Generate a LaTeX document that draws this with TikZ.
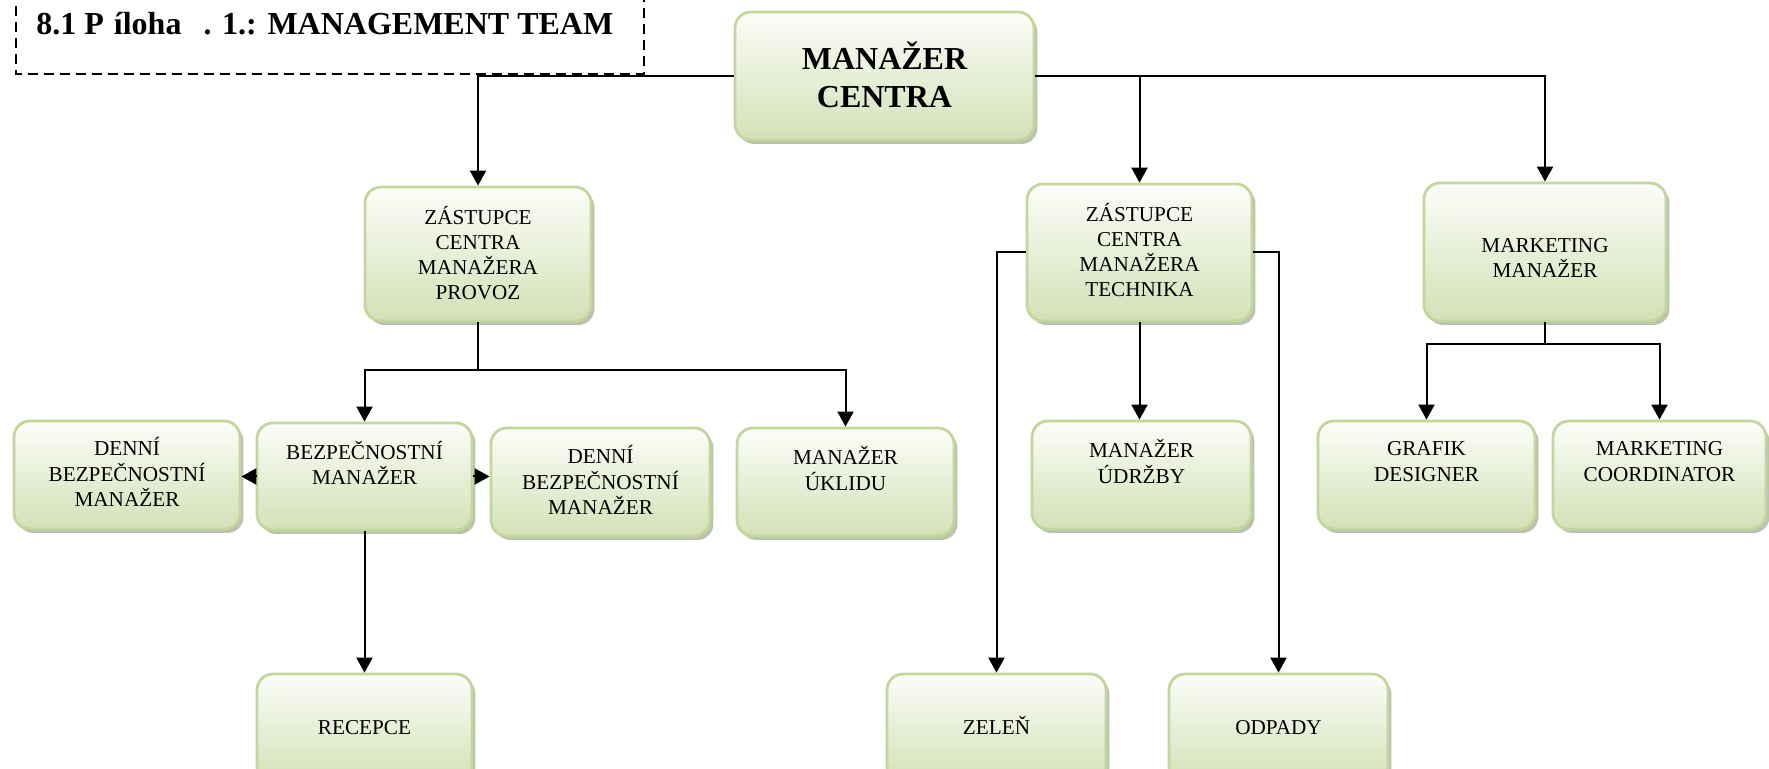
\documentclass[tikz,border=0pt]{standalone}
\usepackage{fontspec}
\setmainfont{Liberation Serif}
\usetikzlibrary{arrows.meta,shadows}
\definecolor{boxedge}{HTML}{C3D69B}
\definecolor{boxtop}{HTML}{FCFDF9}
\definecolor{boxbot}{HTML}{D3E1B6}
\definecolor{boxshade}{HTML}{8E9A78}

% box from corner (x1,y1) to (x2,y2), text centred at height ty
\newcommand\orgnode[8][]{%
  \pgfmathsetmacro\bw{0.5*(#5-#3)}%
  \pgfmathsetmacro\bh{0.5*(#6-#4)}%
  \node[orgbox, minimum width=\bw pt, minimum height=\bh pt] (#2) at ({(#3+#5)/2},{(#4+#6)/2}) {};
  \node[orgtext,#1] (#2-t) at ({(#3+#5)/2},#7) {#8};
}

\begin{document}
\begin{tikzpicture}[x=0.5pt,y=-0.5pt,
  orgbox/.style={draw=boxedge, line width=1.4pt, rounded corners=8pt,
    top color=boxtop, bottom color=boxbot, inner sep=0pt,
    drop shadow={shadow xshift=1.7pt, shadow yshift=-2pt, fill=boxshade, opacity=0.6}},
  orgtext/.style={align=center, inner sep=0pt, font=\fontsize{10.6}{12.6}\selectfont},
  oneline/.style={text height=7pt, text depth=0pt},
  bigtext/.style={font=\fontsize{16}{19}\selectfont\bfseries},
  link/.style={line width=1pt, draw=black},
  arr/.style={link, -{Triangle[length=7.5pt,width=8pt]}}
]
\useasboundingbox (0,0) rectangle (1769,769);
\clip (0,0) rectangle (1769,769);

% heading in a dashed frame
\draw[line width=1pt, dash pattern=on 5pt off 3pt] (16,-10) -- (16,74) -- (644,74) -- (644,-10);
\node[anchor=base west, inner sep=0pt, font=\fontsize{16}{19}\selectfont\bfseries] (hdr) at (36,35)
  {8.1 P\hspace{5pt}íloha\hspace{11pt}. 1.: MANAGEMENT TEAM};

% boxes
\orgnode[bigtext]{mc}{735}{12}{1034}{140}{75}{MANAŽER\\CENTRA}
\orgnode{zp}{365}{187}{591}{321}{253}{ZÁSTUPCE\\CENTRA\\MANAŽERA\\PROVOZ}
\orgnode{zt}{1027}{184}{1252}{321}{250}{ZÁSTUPCE\\CENTRA\\MANAŽERA\\TECHNIKA}
\orgnode{mm}{1424}{183}{1666}{321}{258}{MARKETING\\MANAŽER}
\orgnode{dl}{14}{421}{240}{529}{472}{DENNÍ\\BEZPEČNOSTNÍ\\MANAŽER}
\orgnode{bm}{257}{423}{472}{530}{463}{BEZPEČNOSTNÍ\\MANAŽER}
\orgnode{dr}{491}{428}{710}{536}{480}{DENNÍ\\BEZPEČNOSTNÍ\\MANAŽER}
\orgnode{mu}{737}{428}{954}{536}{468.5}{MANAŽER\\ÚKLIDU}
\orgnode{md}{1032}{421}{1251}{529}{461.5}{MANAŽER\\ÚDRŽBY}
\orgnode{gd}{1318}{421}{1535}{529}{461.5}{GRAFIK\\DESIGNER}
\orgnode{mco}{1553}{421}{1766}{529}{461.5}{MARKETING\\COORDINATOR}
\orgnode[oneline]{rc}{257}{674}{472}{782}{728}{RECEPCE}
\orgnode[oneline]{ze}{887}{674}{1106}{782}{728}{ZELEŇ}
\orgnode[oneline]{od}{1169}{674}{1388}{782}{728}{ODPADY}

% connectors from the centre manager
\draw[arr] (mc.west) -| (zp.north);
\draw[arr] (mc.east) -| (mm.north);
\draw[arr] (mc.east -| zt.north) -- (zt.north);

% operations branch
\coordinate (pbar) at (0,370);
\draw[link] (zp.south) -- (zp.south |- pbar);
\draw[arr] (zp.south |- pbar) -| (bm.north);
\draw[arr] (zp.south |- pbar) -| (mu.north);
\draw[arr] (bm.west) -- (bm.west -| dl.east);
\draw[arr] (bm.east) -- (bm.east -| dr.west);
\draw[arr] (bm.south) -- (bm.south |- rc.north);

% technical branch
\draw[arr] (zt.west) -| (ze.north);
\draw[arr] (zt.east) -| (od.north);
\draw[arr] (zt.south) -- (zt.south |- md.north);

% marketing branch
\coordinate (mbar) at (0,344);
\draw[link] (mm.south) -- (mm.south |- mbar);
\draw[arr] (mm.south |- mbar) -| (gd.north);
\draw[arr] (mm.south |- mbar) -| (mco.north);
\end{tikzpicture}
\end{document}
